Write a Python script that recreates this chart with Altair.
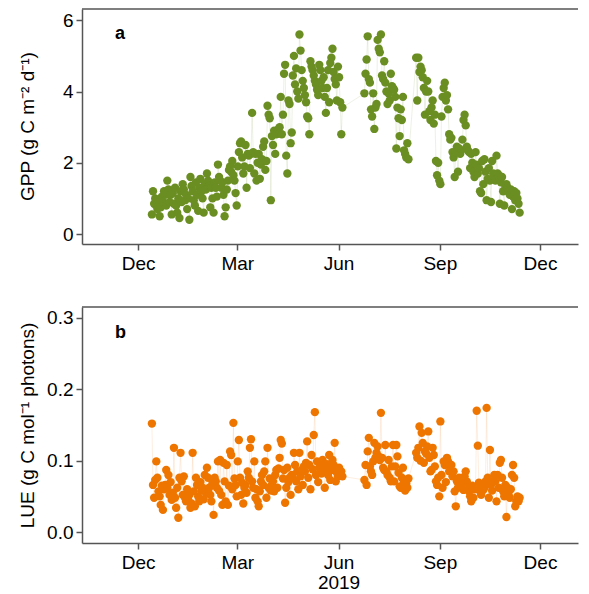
import altair as alt
import pandas as pd

SEG1_START = "2018-12-13"
SEG2_START = "2019-06-24"

# GPP (g C m-2 d-1), daily
gpp_dec = [0.55, 1.2, 0.85, 1.0, 0.8, 0.7, 0.95, 0.5, 0.75, 1.05, 0.9, 1.2, 1.1, 0.8, 1.5, 1.25, 0.9, 1.1, 0.55]
gpp_jan = [1.15, 0.85, 1.3, 0.8, 0.6, 1.0, 0.45, 1.2, 0.9, 1.4, 1.25, 0.95, 1.1, 0.7, 1.0, 0.4, 1.6, 1.35, 1.2, 0.95,
           0.8, 1.45, 1.1, 0.65, 1.3, 1.55, 1.2, 1.0, 0.6, 1.4, 1.25]
gpp_feb = [1.7, 1.5, 1.35, 0.75, 1.3, 1.0, 0.6, 1.45, 1.3, 1.05, 1.95, 1.6, 1.5, 1.3, 1.45, 1.1, 0.5, 0.75, 1.25, 1.5,
           1.8, 1.9, 1.75, 2.05, 1.65, 1.5, 1.15, 0.8]
gpp_mar = [1.9, 2.3, 2.55, 2.6, 2.15, 1.7, 1.9, 2.5, 1.3, 2.25, 2.2, 1.85, 2.25, 3.4, 2.3, 1.7, 2.25, 1.5, 2.0, 2.25,
           1.55, 1.95, 2.1, 2.45, 2.6, 1.8, 2.05, 3.6, 3.35, 3.25, 0.95]
gpp_apr = [2.75, 2.5, 2.9, 2.25, 2.8, 2.9, 2.95, 3.0, 3.85, 2.8, 3.35, 4.5, 4.75, 2.2, 1.7, 3.75, 3.65, 2.55, 2.85, 4.45,
           5.0, 4.2, 4.65, 4.0, 3.8, 5.6, 5.15, 4.6, 4.3, 4.1]
gpp_may = [3.9, 3.7, 3.3, 3.25, 2.8, 4.85, 4.7, 4.6, 4.45, 4.3, 4.2, 4.05, 3.9, 4.75, 4.6, 4.3, 4.1, 4.4, 3.85, 3.4,
           4.1, 4.6, 3.7, 4.8, 4.95, 5.2, 4.55, 4.35, 4.2, 3.75, 4.7]
gpp_jun_a = [4.4, 3.7, 2.8, 3.55]
gpp_jun_b = [3.95, 4.5, 4.9, 5.55, 4.35, 4.25, 3.5]
gpp_jul = [3.3, 3.95, 2.95, 3.55, 3.65, 5.45, 5.2, 5.1, 5.6, 4.45, 4.35, 4.85, 4.25, 4.0, 3.65, 3.95, 3.75, 4.5, 4.15, 4.1,
           4.05, 3.85, 2.4, 3.55, 3.25, 2.75, 3.5, 3.2, 3.85, 2.35, 2.25]
gpp_aug = [2.15, 2.55, 2.1, None, None, None, None, None, None, 4.95, 3.75, 4.95, 4.55, 4.7, 4.6, 4.4, 4.1, 3.35, 4.0, 4.3,
           4.0, 3.45, 3.2, 3.55, 3.75, 3.1, 3.35, 2.05, 1.65, 2.0, 1.5]
gpp_sep = [1.4, 3.3, 3.85, 4.1, 4.25, 3.75, 3.9, 3.5, 2.8, 2.65, 2.7, 2.3, 2.15, 1.6, 2.3, 2.45, 1.75, 2.4, 2.25, 2.35,
           2.65, 3.2, 3.35, 3.05, 2.45, 2.35, 2.3, 1.85, 2.25, 2.0]
gpp_oct = [1.75, 1.6, 2.3, 1.95, 1.7, 1.85, 1.2, 1.15, 2.05, 1.4, 2.1, 1.75, 0.95, 1.55, 1.85, 1.5, 0.9, 2.05, 1.7, 1.6,
           1.5, 2.2, 1.7, 1.65, 0.85, 1.45, 1.6, 1.2, 0.8, 1.35, 1.4]
gpp_nov = [1.3, 1.2, 1.1, 1.25, 0.7, 1.05, 1.2, 0.95, 1.15, 1.0, 0.85, 0.6]

# LUE (g C mol-1 photons), daily
lue_dec = [0.152, 0.066, 0.048, 0.073, 0.099, 0.076, 0.057, 0.050, 0.038, 0.065, 0.031, 0.060, 0.066, 0.087, 0.062,
           0.080, 0.052, 0.070, 0.045]
lue_jan = [0.055, 0.118, 0.048, 0.034, 0.062, 0.020, 0.076, 0.111, 0.071, 0.052, 0.078, 0.048, 0.043, 0.060, 0.045,
           0.052, 0.034, 0.040, 0.111, 0.057, 0.036, 0.076, 0.066, 0.050, 0.043, 0.070, 0.058, 0.062, 0.046, 0.080, 0.055]
lue_feb = [0.090, 0.076, 0.062, 0.052, 0.043, 0.068, 0.024, 0.076, 0.071, 0.062, 0.099, 0.058, 0.101, 0.052, 0.038,
           0.097, 0.071, 0.043, 0.094, 0.038, 0.065, 0.113, 0.108, 0.060, 0.153, 0.075, 0.066, 0.050]
lue_mar = [0.099, 0.129, 0.076, 0.052, 0.069, 0.040, 0.062, 0.066, 0.055, 0.085, 0.076, 0.118, 0.130, 0.071, 0.062,
           0.099, 0.048, 0.060, 0.043, 0.036, 0.057, 0.071, 0.080, 0.066, 0.085, 0.099, 0.048, 0.118, 0.062, 0.075, 0.058]
lue_apr = [0.066, 0.071, 0.057, 0.080, 0.087, 0.062, 0.089, 0.104, 0.129, 0.124, 0.075, 0.087, 0.041, 0.062, 0.090,
           0.070, 0.076, 0.052, 0.080, 0.076, 0.111, 0.094, 0.071, 0.085, 0.060, 0.111, 0.078, 0.087, 0.066, 0.092]
lue_may = [0.085, 0.097, 0.127, 0.076, 0.094, 0.060, 0.108, 0.088, 0.136, 0.168, 0.080, 0.099, 0.070, 0.090, 0.092,
           0.082, 0.101, 0.087, 0.062, 0.085, 0.095, 0.080, 0.108, 0.073, 0.087, 0.101, 0.094, 0.125, 0.071, 0.083, 0.078]
lue_jun_a = [0.090, 0.080, 0.085, 0.078]
lue_jun_b = [0.073, 0.094, 0.066, 0.113, 0.132, 0.092, 0.085]
lue_jul = [0.080, 0.099, 0.125, 0.104, 0.111, 0.120, 0.106, 0.101, 0.167, 0.104, 0.090, 0.087, 0.122, 0.085, 0.080,
           0.101, 0.076, 0.071, 0.092, 0.122, 0.071, 0.092, 0.122, 0.106, 0.083, 0.064, 0.062, 0.076, 0.090, 0.070, 0.058]
lue_aug = [0.068, 0.062, 0.075, None, None, None, None, None, None, 0.111, 0.104, 0.118, 0.148, 0.100, 0.139, 0.125,
           0.097, 0.113, 0.110, 0.120, 0.141, 0.104, 0.085, 0.087, 0.118, 0.108, 0.092, 0.071, 0.066, 0.076, 0.050]
lue_sep = [0.155, 0.080, 0.062, 0.099, 0.094, 0.070, 0.104, 0.099, 0.085, 0.094, 0.094, 0.078, 0.085, 0.057, 0.036,
           0.071, 0.062, 0.076, 0.066, 0.072, 0.066, 0.059, 0.078, 0.085, 0.071, 0.062, 0.057, 0.050, 0.043, 0.065]
lue_oct = [0.048, 0.060, 0.062, 0.170, 0.121, 0.069, 0.057, 0.052, 0.065, 0.059, 0.062, 0.071, 0.174, 0.076, 0.048,
           0.115, 0.066, 0.058, 0.071, 0.080, 0.071, 0.043, 0.080, 0.062, 0.097, 0.101, 0.076, 0.057, 0.050, 0.066, 0.021]
lue_nov = [0.062, 0.052, 0.048, 0.060, 0.080, 0.094, 0.076, 0.036, 0.043, 0.050, 0.043, 0.048]

GREEN = "#6b8e23"
ORANGE = "#ee7600"
FRAME = "#555555"
FONT = "Liberation Sans"


def build(seg1, seg2, name):
    v1 = [v for p in seg1 for v in p]
    v2 = [v for p in seg2 for v in p]
    d1 = pd.DataFrame({"date": pd.date_range(SEG1_START, periods=len(v1), freq="D"), name: v1})
    d2 = pd.DataFrame({"date": pd.date_range(SEG2_START, periods=len(v2), freq="D"), name: v2})
    d = pd.concat([d1, d2]).dropna()
    d[name] = d[name].astype(float)
    d["date"] = d["date"].dt.strftime("%Y-%m-%dT12:00:00")
    return d


gpp_df = build([gpp_dec, gpp_jan, gpp_feb, gpp_mar, gpp_apr, gpp_may, gpp_jun_a],
               [gpp_jun_b, gpp_jul, gpp_aug, gpp_sep, gpp_oct, gpp_nov], "gpp")
lue_df = build([lue_dec, lue_jan, lue_feb, lue_mar, lue_apr, lue_may, lue_jun_a],
               [lue_jun_b, lue_jul, lue_aug, lue_sep, lue_oct, lue_nov], "lue")

xscale = alt.Scale(domain=[alt.DateTime(year=2018, month=10, date=11),
                           alt.DateTime(year=2020, month=1, date=4, hours=12)])
tick_dates = [alt.DateTime(year=2018, month=12, date=1), alt.DateTime(year=2019, month=3, date=1),
              alt.DateTime(year=2019, month=6, date=1), alt.DateTime(year=2019, month=9, date=1),
              alt.DateTime(year=2019, month=12, date=1)]

W = 496

xa = alt.X("date:T", title=None, scale=xscale,
           axis=alt.Axis(values=tick_dates, format="%b", grid=False))
xb = alt.X("date:T", title=None, scale=xscale,
           axis=alt.Axis(values=tick_dates, grid=False,
                         labelExpr="month(datum.value) == 5 ? ['Jun', '2019'] : timeFormat(datum.value, '%b')"))

ya = alt.Y("gpp:Q", scale=alt.Scale(domain=[-0.28, 6.317], nice=False, zero=False),
           axis=alt.Axis(values=[0, 2, 4, 6], grid=False, title="GPP (g C m\u207b\u00b2 d\u207b\u00b9)",
                         titleX=-55, titleY=117, titleBaseline="middle"))
yb = alt.Y("lue:Q", scale=alt.Scale(domain=[-0.0154, 0.3154], nice=False, zero=False),
           axis=alt.Axis(values=[0, 0.1, 0.2, 0.3], format=".1f", grid=False,
                         title="LUE (g C mol\u207b\u00b9 photons)",
                         titleX=-55, titleY=118, titleBaseline="middle"))

one = pd.DataFrame({"t": ["a"]})


def top_rule():
    return alt.Chart(one).mark_rule(color=FRAME, strokeWidth=1.5).encode(
        x=alt.value(0), x2=alt.value(W), y=alt.value(0))


def letter(ch, yv):
    return alt.Chart(pd.DataFrame({"t": [ch]})).mark_text(
        font=FONT, fontWeight="bold", fontSize=18, align="left", baseline="alphabetic", color="black"
    ).encode(text="t:N", x=alt.value(33), y=alt.value(yv))


line_a = alt.Chart(gpp_df).mark_line(color=GREEN, opacity=0.12, strokeWidth=1).encode(x=xa, y=ya)
pts_a = alt.Chart(gpp_df).mark_circle(color=GREEN, size=70, opacity=1).encode(x=xa, y=ya)

line_b = alt.Chart(lue_df).mark_line(color=ORANGE, opacity=0.12, strokeWidth=1).encode(x=xb, y=yb)
pts_b = alt.Chart(lue_df).mark_circle(color=ORANGE, size=70, opacity=1).encode(x=xb, y=yb)

panel_a = alt.layer(line_a, pts_a, top_rule(), letter("a", 30)).properties(width=W, height=235)
panel_b = alt.layer(line_b, pts_b, top_rule(), letter("b", 31)).properties(width=W, height=236)

chart = alt.vconcat(panel_a, panel_b, spacing=33).properties(
    padding={"left": 9, "top": 0, "right": 0, "bottom": 0}
).configure_axis(
    labelFont=FONT, labelFontSize=19, labelColor="black",
    titleFont=FONT, titleFontSize=19, titleFontWeight="normal", titleColor="black",
    domainColor=FRAME, domainWidth=1.5, tickColor=FRAME, tickWidth=1.5,
    tickSize=6, labelPadding=3, labelLineHeight=20
).configure_axisX(
    labelPadding=4
).configure_view(
    stroke="transparent", strokeWidth=0
)

chart.save("out.html", embed_options={"renderer": "svg", "actions": False})
